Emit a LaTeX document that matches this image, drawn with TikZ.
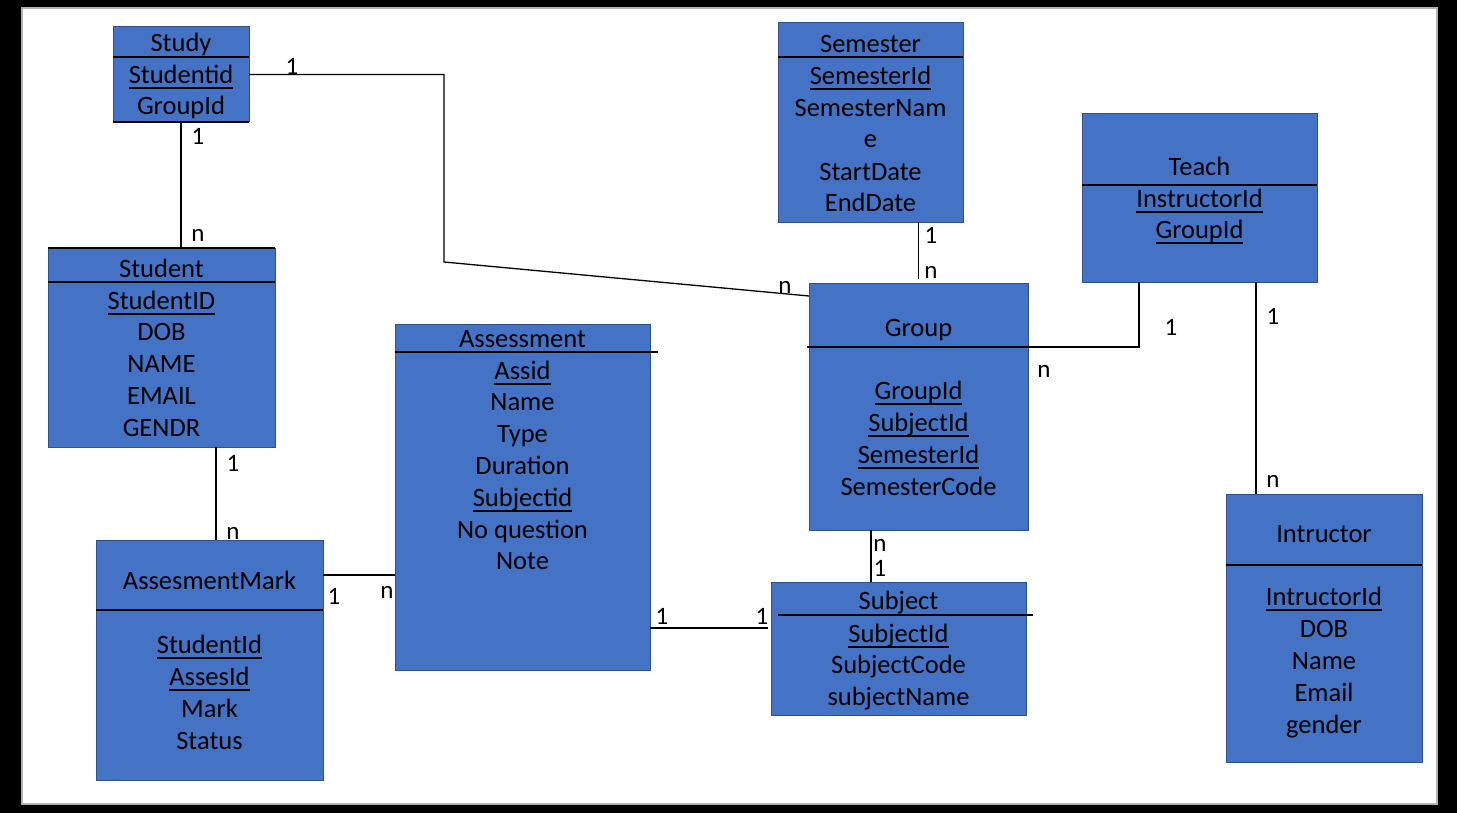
\documentclass[tikz,border=0pt]{standalone}
\usepackage{fontspec}
\setmainfont{Carlito}
\definecolor{boxblue}{HTML}{4472C4}
\definecolor{boxedge}{HTML}{2F528F}
% underlined key attribute
\newcommand{\pk}[1]{\setbox0\hbox{#1}\rlap{\rule[-2.6pt]{\wd0}{0.9pt}}\box0}
\tikzset{
  entity/.style={draw=boxedge, line width=0.5pt, fill=boxblue, anchor=north west, inner sep=0pt, outer sep=0pt},
  attr/.style={font=\fontsize{13.25}{15.9}\selectfont, inner sep=0pt, text height=10.5pt, text depth=2pt},
  card/.style={font=\fontsize{12.5}{15}\selectfont, inner sep=0pt, text height=10.5pt, text depth=2pt},
}
\begin{document}
\begin{tikzpicture}[x=0.5pt, y=-0.5pt, line width=0.65pt]
  % background
  \fill[black] (0,0) rectangle (1457,813);
  \draw[fill=white, draw=gray!60] (22,8) rectangle (1437,804);
  % boxes
  \node[entity, minimum width=68pt, minimum height=47.5pt] (study) at (113,27) {};
  \node[entity, minimum width=113.5pt, minimum height=99.5pt] (student) at (48,248) {};
  \node[entity, minimum width=92.5pt, minimum height=99.5pt] (semester) at (778,23) {};
  \node[entity, minimum width=117.5pt, minimum height=84pt] (teach) at (1082,114) {};
  \node[entity, minimum width=109.5pt, minimum height=123.5pt] (group) at (809,283) {};
  \node[entity, minimum width=127.5pt, minimum height=173pt] (assessment) at (395,324) {};
  \node[entity, minimum width=127.5pt, minimum height=66.5pt] (subject) at (771,582) {};
  \node[entity, minimum width=113.5pt, minimum height=120pt] (assesmark) at (96,540) {};
  \node[entity, minimum width=98pt, minimum height=134pt] (intructor) at (1226,494) {};
  % header lines
  \draw (113,57) -- (249,57);
  \draw (113,122) -- (249,122);
  \draw (48,248) -- (275,248);
  \draw (48,282) -- (275,282);
  \draw (778,57) -- (963,57);
  \draw (1082,185) -- (1317,185);
  \draw (807,347) -- (1028,347);
  \draw (395,352) -- (658,352);
  \draw (778,615) -- (1033,615);
  \draw (96,610) -- (323,610);
  \draw (1226,565) -- (1422,565);
  % study
  \node[attr] at (181,43)(sy0){Study};
  \node[attr] at (181,75)(sy1){\pk{Studentid}};
  \node[attr] at (181,106)(sy2){GroupId};
  % student
  \node[attr] at (161.5,269)(sd0){Student};
  \node[attr] at (161.5,301)(sd1){\pk{StudentID}};
  \node[attr] at (161.5,332)(sd2){DOB};
  \node[attr] at (161.5,364)(sd3){NAME};
  \node[attr] at (161.5,396)(sd4){EMAIL};
  \node[attr] at (161.5,428)(sd5){GENDR};
  % semester
  \node[attr] at (870.5,44)(se0){Semester};
  \node[attr] at (870.5,76)(se1){\pk{SemesterId}};
  \node[attr] at (870.5,108)(se2){SemesterNam};
  \node[attr] at (870.5,139)(se3){e};
  \node[attr] at (870.5,172)(se4){StartDate};
  \node[attr] at (870.5,203)(se5){EndDate};
  % teach
  \node[attr] at (1199.5,167)(te0){Teach};
  \node[attr] at (1199.5,199)(te1){\pk{InstructorId}};
  \node[attr] at (1199.5,230)(te2){\pk{GroupId}};
  % group
  \node[attr] at (918.5,328)(gr0){Group};
  \node[attr] at (918.5,391)(gr1){\pk{GroupId}};
  \node[attr] at (918.5,423)(gr2){\pk{SubjectId}};
  \node[attr] at (918.5,455)(gr3){\pk{SemesterId}};
  \node[attr] at (918.5,487)(gr4){SemesterCode};
  % assessment
  \node[attr] at (522.5,339)(as0){Assessment};
  \node[attr] at (522.5,371)(as1){\pk{Assid}};
  \node[attr] at (522.5,402)(as2){Name};
  \node[attr] at (522.5,434)(as3){Type};
  \node[attr] at (522.5,466)(as4){Duration};
  \node[attr] at (522.5,498)(as5){\pk{Subjectid}};
  \node[attr] at (522.5,530)(as6){No question};
  \node[attr] at (522.5,561)(as7){Note};
  % subject
  \node[attr] at (898.5,601)(su0){Subject};
  \node[attr] at (898.5,634)(su1){\pk{SubjectId}};
  \node[attr] at (898.5,665)(su2){SubjectCode};
  \node[attr] at (898.5,697)(su3){subjectName};
  % assesmentmark
  \node[attr] at (209.5,581)(am0){AssesmentMark};
  \node[attr] at (209.5,645)(am1){\pk{StudentId}};
  \node[attr] at (209.5,677)(am2){\pk{AssesId}};
  \node[attr] at (209.5,709)(am3){Mark};
  \node[attr] at (209.5,741)(am4){Status};
  % intructor
  \node[attr] at (1324,534)(in0){Intructor};
  \node[attr] at (1324,597)(in1){\pk{IntructorId}};
  \node[attr] at (1324,629)(in2){DOB};
  \node[attr] at (1324,661)(in3){Name};
  \node[attr] at (1324,693)(in4){Email};
  \node[attr] at (1324,725)(in5){gender};
  % relations
  \draw (study.south) -- (study.south |- student.north);
  \draw (study.east) -| (444,262) -- ([yshift=-6.5pt]group.north west);
  \draw ([yshift=2pt]group.north) -- (group.north |- semester.south);
  \draw ([yshift=-32pt]group.north east) -| ([xshift=28.5pt]teach.south west);
  \draw ([xshift=15pt]intructor.north west) -- ([xshift=15pt]intructor.north west |- teach.south);
  \draw ([xshift=60pt]assesmark.north west) -- ([xshift=60pt]assesmark.north west |- student.south);
  \draw ([yshift=-17.5pt]assesmark.north east) -- ([yshift=-17.5pt]assesmark.north east -| assessment.west);
  \draw ([xshift=-1.5pt,yshift=-23pt]subject.north west) -- ([yshift=-23pt]subject.north west -| assessment.east);
  \draw ([xshift=31pt]group.south west) -- ([xshift=31pt]group.south west |- subject.north);
  % cardinalities
  \node[card] at (292,66)(c1){1};
  \node[card] at (785,285)(c2){n};
  \node[card] at (198,136)(c3){1};
  \node[card] at (198,233)(c4){n};
  \node[card] at (931,235)(c5){1};
  \node[card] at (931,270)(c6){n};
  \node[card] at (1171,327)(c7){1};
  \node[card] at (1044,369)(c8){n};
  \node[card] at (1273,316)(c9){1};
  \node[card] at (1273,479)(c10){n};
  \node[card] at (233,463)(c11){1};
  \node[card] at (233,531)(c12){n};
  \node[card] at (334,596)(c13){1};
  \node[card] at (387,590)(c14){n};
  \node[card] at (662,616)(c15){1};
  \node[card] at (762,616)(c16){1};
  \node[card] at (880,543)(c17){n};
  \node[card] at (880,568)(c18){1};
\end{tikzpicture}
\end{document}
